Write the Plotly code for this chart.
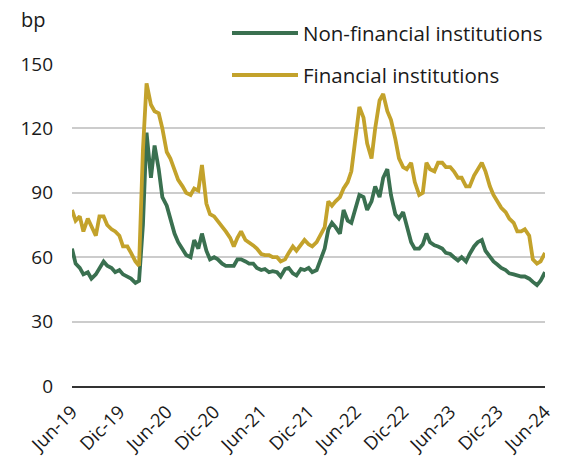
import pandas as pd
import plotly.graph_objects as go

# semi-monthly observation dates, Jun-2019 .. Jun-2024
months = pd.date_range("2019-06-01", "2024-06-01", freq="MS")
dates = []
for m in months:
    dates.append(m)
    if m < months[-1]:
        dates.append(m + pd.Timedelta(days=14))

non_financial = [64, 57, 55, 52, 53, 50, 52, 55, 58, 56, 55, 53, 54, 52, 51, 50, 48, 49, 75, 118,
                 97, 112, 101, 88, 84, 78, 71, 67, 64, 61, 60, 68, 64, 71, 63, 59, 60, 59, 57, 56,
                 56, 56, 59, 59, 58, 57, 57, 55, 54, 54.5, 53, 53.5, 53, 51, 54.5, 55, 52.5, 51.5, 54.5, 54,
                 55, 53, 54, 58, 64, 73, 76, 74, 71, 82, 77, 76, 84, 89, 88, 82, 86, 93, 88, 97,
                 101, 89, 80, 78, 81, 75, 67, 64, 64, 66, 71, 67, 65.5, 65, 64, 62, 61.5, 60, 58.5, 60,
                 58, 61.5, 65, 67, 68, 63, 60, 58, 56.5, 55, 54, 52.5, 52, 51.5, 51, 51, 50, 48.5, 47, 49, 53]

financial = [82, 77, 79, 72, 78, 74, 70, 79, 79, 75, 73, 72, 70, 65, 65, 62, 58, 56, 110, 141,
             131, 128, 127, 120, 109, 106, 100, 96, 93, 90, 89, 92, 91, 103, 85, 80, 79, 77, 74, 72,
             69, 65, 69, 72, 68, 67, 65.5, 64, 61.5, 61, 61, 60, 60, 58, 59, 62, 65, 63, 65.5, 68,
             66, 65, 67, 70, 74, 86, 84, 86, 88, 92, 95, 100, 117, 130, 125, 113, 106, 120, 133, 136,
             128, 124, 115, 106, 102, 101, 104, 95, 89, 90, 104, 101, 100, 104, 104, 102, 102, 100, 97, 97,
             93, 93, 98, 101, 104, 100, 93, 89, 86, 83, 81, 78, 76, 72, 72, 73, 70, 59, 57, 58, 62]

series_names = ["Non-financial institutions", "Financial institutions"]
series_colors = ["#3a7050", "#c3a22b"]

tick_dates = pd.date_range("2019-06-01", "2024-06-01", freq="6MS")
tick_text = ["Jun-19", "Dic-19", "Jun-20", "Dic-20", "Jun-21", "Dic-21",
             "Jun-22", "Dic-22", "Jun-23", "Dic-23", "Jun-24"]
y_ticks = [0, 30, 60, 90, 120, 150]

FONT = "Open Sans"
TXT = "#1a1a1a"

fig = go.Figure()
for name, vals, col in zip(series_names, [non_financial, financial], series_colors):
    fig.add_trace(go.Scatter(x=dates, y=vals, mode="lines", name=name,
                             line=dict(color=col, width=3.8), showlegend=False))

# manual legend (paper coordinates)
W, H = 571, 457
L, R, T, B = 72, 26, 64, 71
pw, ph = W - L - R, H - T - B
def px(x):
    return (x - L) / pw
def py(y):
    return (H - B - y) / ph

legend_rows = [33, 75]
for name, col, yy in zip(series_names, series_colors, legend_rows):
    fig.add_shape(type="line", xref="paper", yref="paper",
                  x0=px(232), x1=px(298), y0=py(yy), y1=py(yy),
                  line=dict(color=col, width=4))
    fig.add_annotation(xref="paper", yref="paper", x=px(301), y=py(yy),
                       text=name, showarrow=False, xanchor="left", yanchor="middle",
                       font=dict(family=FONT, size=20.5, color=TXT))

fig.add_annotation(xref="paper", yref="paper", x=px(19), y=py(19), text="bp",
                   showarrow=False, xanchor="left", yanchor="middle",
                   font=dict(family=FONT, size=20, color=TXT))

fig.update_layout(
    width=W, height=H,
    margin=dict(l=L, r=R, t=T, b=B),
    paper_bgcolor="white", plot_bgcolor="white",
    font=dict(family=FONT, size=19, color=TXT),
    xaxis=dict(range=[tick_dates[0], tick_dates[-1]], tickvals=list(tick_dates), ticktext=tick_text,
               tickangle=-45, showgrid=False, showline=True, linecolor="#333333", linewidth=1.5,
               ticks="", tickfont=dict(size=18.5), zeroline=False, ticklabelstandoff=6,
               automargin=False),
    yaxis=dict(range=[0, 150], tickvals=y_ticks, showgrid=True, gridcolor="#cccccc", gridwidth=1.5,
               zeroline=False, showline=False, ticks="", ticklabelstandoff=18,
               tickfont=dict(size=19), automargin=False),
)

fig.write_html("out.html")
